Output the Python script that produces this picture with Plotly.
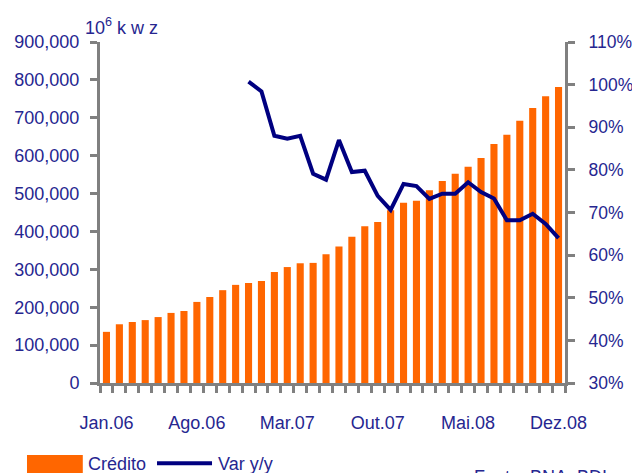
import plotly.graph_objects as go

# ── Data ─────────────────────────────────────────────────────────────────────
months = [
    "Jan.06", "Fev.06", "Mar.06", "Abr.06", "Mai.06", "Jun.06", "Jul.06", "Ago.06",
    "Set.06", "Out.06", "Nov.06", "Dez.06",
    "Jan.07", "Fev.07", "Mar.07", "Abr.07", "Mai.07", "Jun.07", "Jul.07", "Ago.07",
    "Set.07", "Out.07", "Nov.07", "Dez.07",
    "Jan.08", "Fev.08", "Mar.08", "Abr.08", "Mai.08", "Jun.08", "Jul.08", "Ago.08",
    "Set.08", "Out.08", "Nov.08", "Dez.08",
]
credito = [
    135000, 155000, 161000, 166000, 174000, 185000, 190000, 214000,
    227000, 245000, 259000, 264000,
    269000, 293000, 306000, 316000, 317000, 340000, 360000, 386000,
    414000, 425000, 456000, 476000,
    481000, 509000, 533000, 552000, 571000, 594000, 631000, 655000,
    692000, 726000, 757000, 781000,
]
# y/y change, starting Dez.06
var_yy = [
    1.007, 0.984, 0.880, 0.873, 0.880, 0.791, 0.777, 0.870, 0.795, 0.798,
    0.739, 0.706, 0.767, 0.762, 0.732, 0.744, 0.744, 0.771, 0.748, 0.733,
    0.682, 0.682, 0.697, 0.673, 0.640,
]
label_every = 7

# ── Style ────────────────────────────────────────────────────────────────────
_ORANGE = "#FF6600"
_NAVY = "#000080"
_TEXT = "#262690"
_GREY = "#808080"
_FONT = "Liberation Sans, Arial, sans-serif"

x_idx = list(range(len(months)))
line_x = x_idx[len(months) - len(var_yy):]
label_pos = x_idx[::label_every]
label_txt = [months[i] for i in label_pos]

fig = go.Figure()
fig.add_trace(go.Bar(
    x=x_idx, y=credito, name="Crédito",
    marker=dict(color=_ORANGE, line=dict(width=0)),
    width=0.55, showlegend=False,
))
fig.add_trace(go.Scatter(
    x=line_x, y=var_yy, name="Var y/y", yaxis="y2",
    mode="lines", line=dict(color=_NAVY, width=4),
    showlegend=False,
))

_ax = dict(showline=True, linecolor=_GREY, linewidth=3, showgrid=False,
           zeroline=False, ticks="outside", ticklen=7, tickwidth=3,
           tickcolor=_GREY, automargin=False,
           tickfont=dict(family=_FONT, size=18, color=_TEXT))

_txt = dict(family=_FONT, size=18, color=_TEXT)

fig.update_layout(
    width=632, height=473,
    paper_bgcolor="white", plot_bgcolor="white",
    margin=dict(l=100, r=67, t=42, b=90),
    bargap=0.45,
    xaxis=dict(
        **{**_ax, "ticks": "", "ticklen": 0},
        range=[-0.5, len(months) - 0.5],
        tickmode="array", tickvals=label_pos, ticktext=label_txt,
        ticklabelstandoff=21,
        minor=dict(tickmode="linear", tick0=-0.5, dtick=1, ticks="outside",
                   ticklen=7, tickwidth=3, tickcolor=_GREY),
    ),
    yaxis=dict(**_ax, range=[0, 900000], dtick=100000, tickformat=",",
               ticklabelstandoff=7),
    yaxis2=dict(**{**_ax, "tickfont": dict(family=_FONT, size=17.5, color=_TEXT)},
                overlaying="y", side="right", range=[0.3, 1.1],
                dtick=0.1, tickformat=".0%", ticklabelstandoff=10),
    annotations=[
        dict(text="10<sup>6</sup> k w z", xref="paper", yref="paper",
             x=-0.037, y=1.005, xanchor="left", yanchor="bottom",
             showarrow=False, font=_txt),
        dict(text="Crédito", xref="paper", yref="paper",
             x=-0.03, y=-0.237, xanchor="left", yanchor="middle",
             showarrow=False, font=_txt),
        dict(text="Var y/y", xref="paper", yref="paper",
             x=0.25, y=-0.237, xanchor="left", yanchor="middle",
             showarrow=False, font=_txt),
        dict(text="Fonte: BNA, BDI", xref="paper", yref="paper",
             x=0.8, y=-0.24, xanchor="left", yanchor="top",
             showarrow=False, font=_txt),
    ],
    shapes=[
        dict(type="rect", xref="paper", yref="paper",
             x0=-0.157, x1=-0.037, y0=-0.27, y1=-0.211,
             fillcolor=_ORANGE, line=dict(width=0)),
        dict(type="line", xref="paper", yref="paper",
             x0=0.1226, x1=0.2409, y0=-0.235, y1=-0.235,
             line=dict(color=_NAVY, width=4)),
    ],
)

fig.write_html(
    "out.html",
    config={"displayModeBar": False},
    post_script="document.body.style.margin='0';",
)
